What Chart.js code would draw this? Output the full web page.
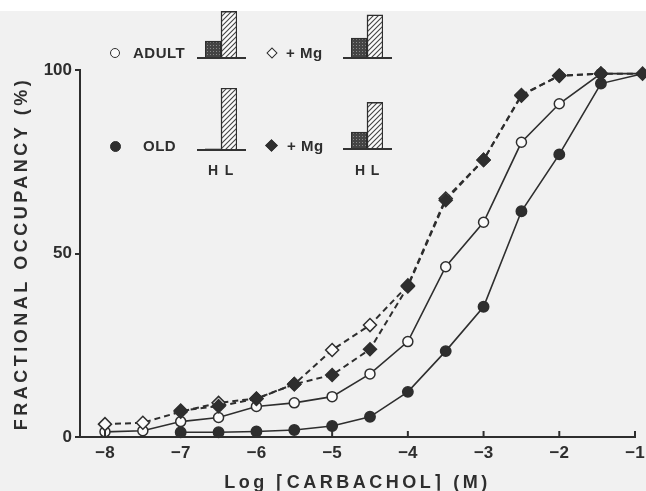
<!DOCTYPE html>
<html>
<head>
<meta charset="utf-8">
<script src="https://cdn.jsdelivr.net/npm/chart.js"></script>
<style>
  html, body { margin: 0; padding: 0; background: #fff; }
  #wrap { position: relative; width: 646px; height: 491px; overflow: hidden; background: #f1f1f1; }
  #topband { position: absolute; left: 0; top: 0; width: 646px; height: 11px; background: #fff; }
  #main { position: absolute; left: 0; top: 0; }
  .lbl { position: absolute; font: bold 15px "Liberation Sans", Arial, sans-serif; color: #2e2e2e; line-height: 16px; white-space: nowrap; letter-spacing: 0.5px; }
  .hl { position: absolute; width: 16px; text-align: center; font: bold 14px "Liberation Sans", Arial, sans-serif; color: #2e2e2e; line-height: 16px; }
  .mini { position: absolute; width: 49px; height: 61px; border-bottom: 2px solid #333; }
  .mini canvas { display: block; }
  .dot { position: absolute; box-sizing: border-box; border: 1.5px solid #2e2e2e; border-radius: 50%; }
  .dia { position: absolute; box-sizing: border-box; border: 1.5px solid #2e2e2e; transform: rotate(45deg); }
</style>
</head>
<body>
<div id="wrap">
  <div id="topband"></div>
  <canvas id="main" width="646" height="491"></canvas>

  <!-- legend, row 1 -->
  <div class="dot" style="left:110px; top:48px; width:10px; height:10px; background:#fafafa;"></div>
  <div class="lbl" style="left:133px; top:45px;">ADULT</div>
  <div class="mini" style="left:197px; top:-4px;"><canvas id="barAdult" width="49" height="61"></canvas></div>
  <div class="dia" style="left:268px; top:49px; width:8px; height:8px; background:#fafafa;"></div>
  <div class="lbl" style="left:286px; top:45px;">+ Mg</div>
  <div class="mini" style="left:343px; top:-4px;"><canvas id="barAdultMg" width="49" height="61"></canvas></div>

  <!-- legend, row 2 -->
  <div class="dot" style="left:110px; top:141px; width:11px; height:11px; background:#2e2e2e;"></div>
  <div class="lbl" style="left:143px; top:138px;">OLD</div>
  <div class="mini" style="left:197px; top:88px;"><canvas id="barOld" width="49" height="61"></canvas></div>
  <div class="dia" style="left:267px; top:141px; width:9px; height:9px; background:#2e2e2e;"></div>
  <div class="lbl" style="left:287px; top:138px;">+ Mg</div>
  <div class="mini" style="left:343px; top:87px;"><canvas id="barOldMg" width="49" height="61"></canvas></div>

  <div class="hl" style="left:205px; top:162px;">H</div>
  <div class="hl" style="left:221px; top:162px;">L</div>
  <div class="hl" style="left:352px; top:162px;">H</div>
  <div class="hl" style="left:367px; top:162px;">L</div>
</div>

<script>
// log [carbachol] ticks
const xTicks = [-8, -7, -6, -5, -4, -3, -2, -1];
const yTicks = [0, 50, 100];

// fractional occupancy (%)
const adultX = [-8, -7.5, -7, -6.5, -6, -5.5, -5, -4.5, -4, -3.5, -3, -2.5, -2, -1.45, -0.9];
const adultY = [1.4, 1.7, 4.2, 5.3, 8.3, 9.3, 11, 17.2, 26, 46.4, 58.5, 80.3, 90.8, 99, 99];

const oldX = [-7, -6.5, -6, -5.5, -5, -4.5, -4, -3.5, -3, -2.5, -2, -1.45, -0.9];
const oldY = [1.3, 1.3, 1.5, 1.9, 3, 5.5, 12.3, 23.4, 35.5, 61.5, 77, 96.3, 99];

const adultMgX = [-8, -7.5, -7, -6.5, -6, -5.5, -5, -4.5, -4, -3.5, -3, -2.5, -2, -1.45];
const adultMgY = [3.5, 3.9, 6.9, 9.3, 10.5, 14.4, 23.7, 30.5, 41.3, 65, 75.5, 93, 98.5, 99];

const oldMgX = [-7, -6.5, -6, -5.5, -5, -4.5, -4, -3.5, -3, -2.5, -2, -1.45, -0.9];
const oldMgY = [7.2, 8.4, 10.4, 14.4, 16.9, 23.9, 41, 64.5, 75.5, 93.2, 98.4, 99, 99];

// high / low affinity split (%) for the little insets
const barLabels = ["H", "L"];
const adultBars = [26, 75];
const adultMgBars = [31, 69];
const oldBars = [0, 100];
const oldMgBars = [26, 75];

const ink = "#2e2e2e";
const paper = "#fafafa";
const font = "'Liberation Sans', Arial, sans-serif";

function makePatterns() {
  const a = document.createElement("canvas");
  a.width = 3; a.height = 3;
  let c = a.getContext("2d");
  c.fillStyle = "#444";
  c.fillRect(0, 0, 3, 3);
  c.fillStyle = "#8a8a8a";
  c.fillRect(1, 1, 1, 1);
  const h = c.createPattern(a, "repeat");

  const b = document.createElement("canvas");
  b.width = 5; b.height = 5;
  c = b.getContext("2d");
  c.fillStyle = "#fbfbfb";
  c.fillRect(0, 0, 5, 5);
  c.strokeStyle = "#444";
  c.lineWidth = 1.1;
  c.beginPath();
  c.moveTo(0, 5); c.lineTo(5, 0);
  c.moveTo(-1, 1); c.lineTo(1, -1);
  c.moveTo(4, 6); c.lineTo(6, 4);
  c.stroke();
  const l = c.createPattern(b, "repeat");
  return [h, l];
}
const pats = makePatterns();

function miniBars(id, vals) {
  new Chart(document.getElementById(id), {
    type: "bar",
    data: {
      labels: barLabels,
      datasets: [{
        data: vals,
        backgroundColor: pats,
        borderColor: ink,
        borderWidth: ctx => ctx.raw > 0 ? 1.5 : 0,
        borderSkipped: "bottom",
        categoryPercentage: 1,
        barPercentage: 1
      }]
    },
    options: {
      responsive: false,
      animation: false,
      devicePixelRatio: 1,
      layout: { padding: { left: 8, right: 9, top: 0, bottom: 0 } },
      plugins: { legend: { display: false }, tooltip: { enabled: false } },
      scales: {
        x: { display: false },
        y: { display: false, min: 0, max: 100 }
      }
    }
  });
}

function series(label, xs, ys, style, fillColor, dash, r) {
  return {
    label: label,
    data: xs.map((x, i) => ({ x: x, y: ys[i] })),
    borderColor: ink,
    borderWidth: dash.length ? 2 : 1.6,
    borderDash: dash,
    pointStyle: style,
    pointRadius: r,
    pointBackgroundColor: fillColor,
    pointBorderColor: ink,
    pointBorderWidth: 1.5,
    tension: 0,
    fill: false,
    clip: false
  };
}

// axis titles are widely spaced, tick numbers are not.
// titles draw with the grid layer (before datasets), tick labels are moved after them (z 1)
const spacing = {
  id: "spacing",
  beforeDraw(chart) { chart.ctx.letterSpacing = "3.5px"; },
  afterDatasetsDraw(chart) { chart.ctx.letterSpacing = "0px"; }
};

// x ticks point up into the plot
const innerTicks = {
  id: "innerTicks",
  afterDraw(chart) {
    const x = chart.scales.x;
    const b = chart.chartArea.bottom;
    const ctx = chart.ctx;
    ctx.save();
    ctx.strokeStyle = ink;
    ctx.lineWidth = 2;
    xTicks.forEach(v => {
      const px = x.getPixelForValue(v);
      ctx.beginPath();
      ctx.moveTo(px, b);
      ctx.lineTo(px, b - 6);
      ctx.stroke();
    });
    ctx.restore();
  }
};

const tickLabel = v => (v < 0 ? "\u2212" : "") + Math.abs(v);

new Chart(document.getElementById("main"), {
  type: "line",
  data: {
    datasets: [
      series("OLD + Mg", oldMgX, oldMgY, "rectRot", ink, [6, 4], 6.5),
      series("ADULT + Mg", adultMgX, adultMgY, "rectRot", paper, [6, 4], 6.5),
      series("ADULT", adultX, adultY, "circle", paper, [], 5),
      series("OLD", oldX, oldY, "circle", ink, [], 5.2)
    ]
  },
  options: {
    responsive: false,
    animation: false,
    devicePixelRatio: 1,
    layout: { padding: { top: 70, right: 11, left: 0, bottom: 0 } },
    plugins: { legend: { display: false }, tooltip: { enabled: false } },
    scales: {
      x: {
        type: "linear",
        min: -8.33,
        max: -1,
        afterFit(s) { s.height = 54; },
        afterBuildTicks(s) { s.ticks = xTicks.map(v => ({ value: v })); },
        grid: { display: false },
        border: { display: true, color: ink, width: 2 },
        ticks: {
          z: 1,
          padding: -2,
          color: ink,
          font: { family: font, size: 17, weight: "bold" },
          callback: tickLabel
        },
        title: {
          display: true,
          text: "Log ⌈CARBACHOL⌉ (M)",
          color: ink,
          font: { family: font, size: 18, weight: "bold" },
          padding: { top: 0, bottom: -3 }
        }
      },
      y: {
        min: 0,
        max: 100,
        afterFit(s) { s.width = 80; },
        afterBuildTicks(s) { s.ticks = yTicks.map(v => ({ value: v })); },
        grid: { drawOnChartArea: false, drawTicks: true, tickLength: 5, color: ink, lineWidth: 2 },
        border: { display: true, color: ink, width: 2 },
        ticks: {
          z: 1,
          padding: 3,
          color: ink,
          font: { family: font, size: 17, weight: "bold" },
          callback: tickLabel
        },
        title: {
          display: true,
          text: "FRACTIONAL OCCUPANCY (%)",
          color: ink,
          font: { family: font, size: 18, weight: "bold" },
          padding: { top: 11, bottom: 0 }
        }
      }
    }
  },
  plugins: [spacing, innerTicks]
});

miniBars("barAdult", adultBars);
miniBars("barAdultMg", adultMgBars);
miniBars("barOld", oldBars);
miniBars("barOldMg", oldMgBars);
</script>
</body>
</html>
